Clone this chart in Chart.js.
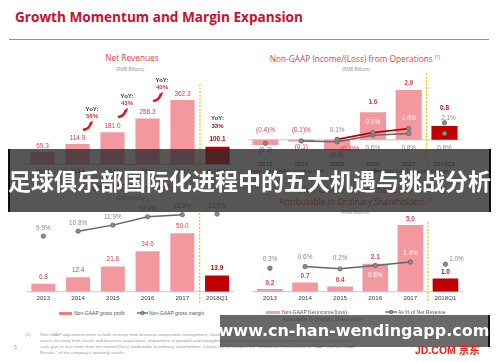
<!DOCTYPE html>
<html><head><meta charset="utf-8">
<script src="https://cdn.jsdelivr.net/npm/chart.js@4.4.1/dist/chart.umd.min.js"></script>
<style>
html,body{margin:0;padding:0;background:#fff;width:500px;height:362px;overflow:hidden;font-family:"Liberation Sans",Arial,sans-serif;}
#page{position:relative;width:500px;height:362px;}
canvas{position:absolute;}
.t{position:absolute;white-space:nowrap;line-height:1;}
.c{transform:translate(-50%,-50%);}
.v{transform:translateY(-50%);}
.ctitle{font-family:"Open Sans",sans-serif;font-size:8.3px;color:#D94450;}
.sub{font-size:4.5px;color:#9a9a9a;}
.leg{font-size:5px;color:#555;}
.foot{font-size:4.4px;color:#9c9c9c;}
sup{font-size:4.5px;vertical-align:3px;}
#banner{position:absolute;left:8px;top:149px;width:479px;height:63px;background:rgba(44,44,44,0.8);border-left:2px solid #111;border-right:2px solid #111;z-index:5;}
#banner span{position:absolute;left:50%;top:50%;transform:translate(-50%,-52%);white-space:nowrap;color:#fff;font-family:"Noto Sans CJK SC",sans-serif;font-weight:700;font-size:23px;line-height:1;}
#wm{position:absolute;left:220px;top:315px;width:268px;height:32px;background:rgba(72,72,72,0.82);border-right:2px solid #111;z-index:5;}
#wm span{position:absolute;left:50%;top:50%;transform:translate(-50%,-50%);white-space:nowrap;color:#fff;font-family:"DejaVu Sans",sans-serif;font-weight:700;font-size:16px;line-height:1;}
#logo{z-index:6;color:#E1251B;font-weight:700;font-size:10.5px;}
</style></head><body>
<div id="page">
  <div class="t" style="left:15px;top:10px;font-family:'Open Sans',sans-serif;font-weight:700;font-size:13.6px;color:#C8102E;">Growth Momentum and Margin Expansion</div>
  <div style="position:absolute;left:9px;top:39px;width:480px;height:1px;background:#E06A70;"></div>

  <div class="t c ctitle" style="left:132px;top:58px;">Net Revenues</div>
  <div class="t c sub" style="left:130px;top:69.5px;">(RMB Billions)</div>

  <div class="t c ctitle" style="left:355px;top:59px;">Non-GAAP Income/(Loss) from Operations <sup>(1)</sup></div>
  <div class="t c sub" style="left:356px;top:70px;">(RMB Billions)</div>

  <div class="t c ctitle" style="left:130px;top:188px;">Non-GAAP Gross Profit</div>
  <div class="t c sub" style="left:130px;top:199px;">(RMB Billions)</div>

  <div class="t c ctitle" style="left:356px;top:190px;">Non-GAAP Net Income/(Loss)</div>
  <div class="t c ctitle" style="left:356px;top:202px;">Attributable to Ordinary Shareholders <sup>(1)</sup></div>
  <div class="t c sub" style="left:355px;top:213px;">(RMB Billions)</div>

  <canvas id="c1" width="250" height="138" style="left:0px;top:40px;"></canvas>
  <canvas id="c2" width="260" height="131" style="left:240px;top:40px;"></canvas>
  <canvas id="c3" width="250" height="116" style="left:0px;top:190px;"></canvas>
  <canvas id="c4" width="255" height="116" style="left:245px;top:190px;"></canvas>

  <!-- legends -->
  <div style="position:absolute;left:248px;top:169.5px;width:14px;height:3px;background:#F2989E;"></div>
  <div class="t v leg" style="left:265px;top:171px;">Non-GAAP operating profit</div>
  <svg style="position:absolute;left:367px;top:168px;" width="16" height="6"><line x1="0" y1="3" x2="16" y2="3" stroke="#555" stroke-width="1.2"/><circle cx="8" cy="3" r="1.8" fill="#8C8C8C" stroke="#555" stroke-width="0.6"/></svg>
  <div class="t v leg" style="left:385px;top:171px;">Non-GAAP operating margin</div>

  <div style="position:absolute;left:59px;top:311.5px;width:13px;height:3px;background:#EC7C86;"></div>
  <div class="t v leg" style="left:74px;top:313px;">Non-GAAP gross profit</div>
  <svg style="position:absolute;left:137px;top:310px;" width="11" height="6"><line x1="0" y1="3" x2="11" y2="3" stroke="#555" stroke-width="1.2"/><circle cx="5.5" cy="3" r="1.8" fill="#8C8C8C" stroke="#555" stroke-width="0.6"/></svg>
  <div class="t v leg" style="left:149px;top:313px;">Non-GAAP gross margin</div>

  <div style="position:absolute;left:266px;top:310.5px;width:14px;height:3px;background:#F2A6AB;"></div>
  <div class="t v leg" style="left:282px;top:312px;">Non-GAAP Net income/(loss)</div>
  <div class="t v leg" style="left:282px;top:319px;">Attributable to Ordinary Shareholders</div>
  <svg style="position:absolute;left:385px;top:309px;" width="12" height="6"><line x1="0" y1="3" x2="12" y2="3" stroke="#555" stroke-width="1.2"/><circle cx="6" cy="3" r="1.8" fill="#8C8C8C" stroke="#555" stroke-width="0.6"/></svg>
  <div class="t v leg" style="left:398px;top:312px;">As % of Net Revenue</div>

  <!-- footnote -->
  <div class="t v foot" style="left:25px;top:335px;">(1)</div>
  <div class="t v foot" style="left:40px;top:335px;">Non-GAAP adjustment items include revenue from business cooperation arrangement, share-based compensation, amortization of intangible</div>
  <div class="t v foot" style="left:40px;top:341px;">assets resulting from assets and business acquisitions, impairment of goodwill and intangible assets, fair value changes of long-term investments, and certain non-</div>
  <div class="t v foot" style="left:40px;top:347px;">cash gain or loss items from net income/(loss) attributable to ordinary shareholders. Details can be found in the "Unaudited Reconciliation of GAAP and Non-GAAP</div>
  <div class="t v foot" style="left:40px;top:353px;">Results " of the company's quarterly results.</div>
  <div class="t v foot" style="left:14px;top:347px;font-size:5px;">5</div>

  <div id="banner"><span>足球俱乐部国际化进程中的五大机遇与挑战分析</span></div>
  <div id="wm"><span>www.cn-han-wendingapp.com</span></div>
  <div id="logo" class="t v" style="left:415px;top:350px;">JD.COM <span style="font-family:'Noto Sans CJK SC';">京东</span></div>
</div>
<script>
// ---------------- data ----------------
const years = ['2013','2014','2015','2016','2017','2018Q1'];
const netRevenues = [69.3, 114.9, 181.0, 258.3, 362.3, 100.1];
const revenueYoY = [null, null, 58, 43, 40, 33];
const opProfit = [-0.3, -0.1, -0.6, 1.6, 2.9, 0.8];
const opMarginTotal = [-0.4, -0.1, -0.2, 0.6, 0.8, 0.8];
const opMarginMall = [null, null, 0.1, 0.9, 1.4, 2.1];
const grossProfit = [6.8, 12.4, 21.6, 34.6, 50.0, 13.9];
const grossMargin = [9.9, 10.8, 11.9, 13.4, 13.8, 13.9];
const netIncome = [0.2, 0.7, 0.4, 2.1, 5.0, 1.0];
const netMargin = [0.3, 0.6, 0.2, 0.8, 1.4, 1.0];

// ---------------- styles ----------------
const FONT = '"Liberation Sans", Arial, sans-serif';
const PINK = '#F2989E';
const DARKRED = '#C00000';
const LABELRED = '#D5434E';
const QRED = '#9E0B0B';
const GRAYTXT = '#8A8A8A';
const LINEGRAY = '#666666';
const LAST = years.length - 1;
const clear = 'rgba(0,0,0,0)';

function fmtVal(v, pct){ const s = Math.abs(v).toFixed(1); return (v < 0 ? '(' + s + ')' : s) + (pct ? '%' : ''); }

const valueLabels = {
  id: 'valueLabels',
  afterDatasetsDraw(chart){
    const ctx = chart.ctx;
    chart.data.datasets.forEach((ds, di) => {
      if (!ds.valueLabel) return;
      const meta = chart.getDatasetMeta(di);
      meta.data.forEach((el, i) => {
        const v = ds.data[i];
        if (v === null || v === undefined) return;
        const o = ds.valueLabel(i, v, el, chart);
        if (!o) return;
        ctx.save();
        ctx.font = (o.bold ? 'bold ' : '') + (o.size || 6.4) + 'px ' + FONT;
        ctx.fillStyle = o.color; ctx.textAlign = 'center'; ctx.textBaseline = 'middle';
        const x = o.x !== undefined ? o.x : el.x + (o.dx || 0);
        const y = o.y !== undefined ? o.y : el.y + (o.dy || 0);
        ctx.fillText(fmtVal(v, ds.isPct), x, y);
        ctx.restore();
      });
    });
  }
};

const divider = {
  id: 'divider',
  afterDatasetsDraw(chart, args, opts){
    const x = chart.scales.x;
    const px = (x.getPixelForValue(LAST - 1) + x.getPixelForValue(LAST)) / 2;
    const ctx = chart.ctx; ctx.save();
    ctx.strokeStyle = '#F2C200'; ctx.lineWidth = 1.2; ctx.setLineDash([2, 1.5]);
    ctx.beginPath(); ctx.moveTo(px, opts.top); ctx.lineTo(px, opts.bottom); ctx.stroke();
    ctx.restore();
  }
};

const baseline = {
  id: 'baseline',
  beforeDatasetsDraw(chart){
    const y = chart.scales.y, a = chart.chartArea, ctx = chart.ctx;
    const py = Math.min(y.getPixelForValue(0), a.bottom);
    ctx.save(); ctx.strokeStyle = '#C9C9C9'; ctx.lineWidth = 1;
    ctx.beginPath(); ctx.moveTo(a.left, py); ctx.lineTo(a.right, py); ctx.stroke(); ctx.restore();
  }
};

function pepper(ctx, x, y){
  ctx.save();
  ctx.strokeStyle = '#D01F26'; ctx.fillStyle = '#D01F26'; ctx.lineWidth = 2.6; ctx.lineCap = 'round';
  ctx.beginPath(); ctx.moveTo(x - 4, y + 3.5); ctx.quadraticCurveTo(x + 0.5, y + 3, x + 2.5, y - 2); ctx.stroke();
  ctx.beginPath(); ctx.moveTo(x + 1, y - 3); ctx.lineTo(x + 5, y - 5.5); ctx.lineTo(x + 4, y - 1); ctx.closePath(); ctx.fill();
  ctx.restore();
}

const yoyNotes = {
  id: 'yoyNotes',
  afterDatasetsDraw(chart){
    const x = chart.scales.x, y = chart.scales.y, ctx = chart.ctx;
    ctx.save(); ctx.textAlign = 'center'; ctx.textBaseline = 'middle';
    revenueYoY.forEach((g, i) => {
      if (g === null) return;
      let tx, ty1, ty2, pctColor;
      if (i === LAST) {
        tx = x.getPixelForValue(i);
        const top = y.getPixelForValue(netRevenues[i]);
        ty1 = top - 28; ty2 = top - 20; pctColor = QRED;
      } else {
        const mx = (x.getPixelForValue(i - 1) + x.getPixelForValue(i)) / 2;
        const my = (y.getPixelForValue(netRevenues[i - 1]) + y.getPixelForValue(netRevenues[i])) / 2;
        tx = mx - 3; ty1 = my - 29; ty2 = my - 22; pctColor = '#D0343F';
        pepper(ctx, mx - 7, my - 12);
      }
      ctx.font = 'bold 6px ' + FONT; ctx.fillStyle = '#333';
      ctx.fillText('YoY:', tx, ty1);
      ctx.fillStyle = pctColor;
      ctx.fillText(g + '%', tx, ty2);
    });
    ctx.restore();
  }
};

function xAxis(){
  return { grid: { display: false, drawTicks: false }, border: { display: false },
    ticks: { color: '#404040', font: { size: 6.2, family: FONT }, padding: 3, maxRotation: 0, autoSkip: false } };
}
function baseOpts(pad, dividerOpts, scales){
  return { responsive: false, animation: false, devicePixelRatio: 1,
    layout: { padding: pad },
    plugins: { legend: { display: false }, tooltip: { enabled: false }, divider: dividerOpts },
    scales: scales };
}
const barColors = arr => arr.map((_, i) => i === LAST ? DARKRED : PINK);
const lineStyle = (color, width, breakFirst) => ({
  borderColor: color, borderWidth: width, pointRadius: 2.2, pointBackgroundColor: '#8C8C8C',
  pointBorderColor: '#5E5E5E', pointBorderWidth: 0.7, spanGaps: false,
  segment: { borderColor: c => (c.p1DataIndex === LAST || (breakFirst && c.p0DataIndex === 0)) ? clear : color }
});

// ---------------- chart 1: Net revenues ----------------
new Chart(document.getElementById('c1'), {
  type: 'bar',
  data: { labels: years, datasets: [{
    data: netRevenues, backgroundColor: barColors(netRevenues),
    barPercentage: 0.69, categoryPercentage: 1,
    valueLabel: (i) => i === LAST ? { dy: -7, color: QRED, bold: true } : { dy: -6, color: LABELRED }
  }]},
  options: baseOpts({ left: 25, right: 15, top: 30, bottom: 0.1 }, { top: 44, bottom: 136 },
    { x: xAxis(), y: { display: false, min: 0, max: 530.5 } }),
  plugins: [baseline, valueLabels, divider, yoyNotes]
});

// ---------------- chart 2: Non-GAAP income from operations ----------------
new Chart(document.getElementById('c2'), {
  type: 'bar',
  data: { labels: years, datasets: [
    Object.assign({ type: 'line', data: opMarginTotal, yAxisID: 'y1', order: 1, isPct: true,
      valueLabel: (i, v, el, ch) => {
        const z = ch.scales.y1.getPixelForValue(0);
        if (i < 2) return { y: z - 9.5, color: LABELRED };
        if (i === 2) return { dx: 13, dy: 7, color: LABELRED };
        return { y: z + 8, color: GRAYTXT };
      } }, lineStyle(LINEGRAY, 1.5, true)),
    Object.assign({ type: 'line', data: opMarginMall, yAxisID: 'y1', order: 0, isPct: true,
      valueLabel: (i) => {
        if (i === 3 || i === 4) return { dy: -10, color: '#fff' };
        if (i === LAST) return { dx: 4, dy: -4, color: GRAYTXT };
        return { dy: -9.5, color: GRAYTXT };
      } }, lineStyle('#C00000', 1.8, false)),
    { type: 'bar', data: opProfit, yAxisID: 'y', order: 2, backgroundColor: barColors(opProfit),
      barPercentage: 0.73, categoryPercentage: 1,
      valueLabel: (i, v) => {
        if (v < 0) return { dy: 5.5, color: LABELRED };
        if (i === LAST) return { dy: -18, color: QRED, bold: true };
        return { dy: i === 3 ? -10.5 : -7, color: LABELRED, bold: true };
      } }
  ]},
  options: baseOpts({ left: 7.6, right: 37.6, top: 35, bottom: 0.1 }, { top: 33, bottom: 126 },
    { x: xAxis(), y: { display: false, min: -1.029, max: 3.779 }, y1: { display: false, min: -2.096, max: 7.867 } }),
  plugins: [baseline, valueLabels, divider]
});

// ---------------- chart 3: Non-GAAP gross profit ----------------
new Chart(document.getElementById('c3'), {
  type: 'bar',
  data: { labels: years, datasets: [
    Object.assign({ type: 'line', data: grossMargin, yAxisID: 'y1', order: 0, isPct: true,
      valueLabel: () => ({ dy: -8, color: GRAYTXT }) }, lineStyle(LINEGRAY, 1.5, true)),
    { type: 'bar', data: grossProfit, yAxisID: 'y', order: 1, backgroundColor: barColors(grossProfit),
      barPercentage: 0.69, categoryPercentage: 1,
      valueLabel: (i) => i === LAST ? { dy: -7, color: QRED, bold: true } : { dy: -7, color: LABELRED } }
  ]},
  options: baseOpts({ left: 26, right: 15.6, top: 15, bottom: 0.8 }, { top: 23, bottom: 113 },
    { x: xAxis(), y: { display: false, min: 0, max: 74.04 }, y1: { display: false, min: -0.212, max: 15.556 } }),
  plugins: [baseline, valueLabels, divider]
});

// ---------------- chart 4: Non-GAAP net income ----------------
new Chart(document.getElementById('c4'), {
  type: 'bar',
  data: { labels: years, datasets: [
    Object.assign({ type: 'line', data: netMargin, yAxisID: 'y1', order: 0, isPct: true,
      valueLabel: (i, v, el, ch) => {
        if (i < 3) return { y: el.y - 9.5 - (i === 2 ? 1.5 : 0), color: GRAYTXT };
        if (i === 3) return { dy: 9.5, color: '#fff' };
        if (i === 4) return { dy: -9, color: '#fff' };
        return { dx: 11, dy: -5, color: GRAYTXT };
      } }, lineStyle(LINEGRAY, 1.5, true)),
    { type: 'bar', data: netIncome, yAxisID: 'y', order: 1, backgroundColor: barColors(netIncome),
      barPercentage: 0.73, categoryPercentage: 1,
      valueLabel: (i) => i === LAST ? { dy: -6, color: QRED, bold: true } : { dy: -6, color: LABELRED, bold: true } }
  ]},
  options: baseOpts({ left: 7.4, right: 37, top: 25, bottom: 0.8 }, { top: 32, bottom: 113 },
    { x: xAxis(), y: { display: false, min: 0, max: 5.746 }, y1: { display: false, min: -3.759, max: 9.517 } }),
  plugins: [baseline, valueLabels, divider]
});
</script>
</body></html>
